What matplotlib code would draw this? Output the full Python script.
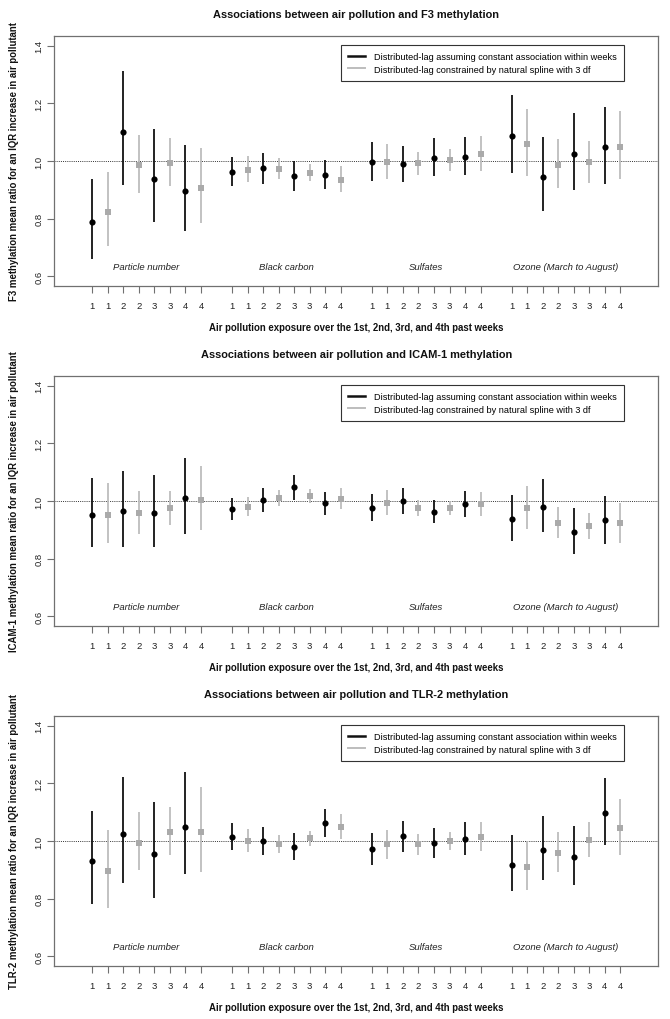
import matplotlib
matplotlib.use("Agg")
import matplotlib.pyplot as plt
from matplotlib.lines import Line2D
import numpy as np

plt.rcParams['font.family'] = ['Liberation Sans', 'DejaVu Sans']

pollutants = ["Particle number", "Black carbon", "Sulfates", "Ozone (March to August)"]
lags = [1, 2, 3, 4]
genes = ["F3", "ICAM-1", "TLR-2"]
legend_labels = ["Distributed-lag assuming constant association within weeks",
                 "Distributed-lag constrained by natural spline with 3 df"]

# Order in every array: PN lag1-4, BC lag1-4, SO4 lag1-4, O3 lag1-4
# ---- F3 ----
f3_const_est = [0.788, 1.099, 0.936, 0.896, 0.962, 0.976, 0.948, 0.953,
                0.995, 0.988, 1.012, 1.015, 1.085, 0.946, 1.025, 1.047]
f3_const_lo = [0.662, 0.917, 0.788, 0.759, 0.912, 0.921, 0.895, 0.902,
               0.930, 0.928, 0.948, 0.950, 0.957, 0.826, 0.898, 0.921]
f3_const_hi = [0.936, 1.313, 1.112, 1.057, 1.014, 1.029, 1.000, 1.005,
               1.065, 1.053, 1.079, 1.083, 1.229, 1.084, 1.166, 1.187]
f3_spline_est = [0.823, 0.986, 0.992, 0.906, 0.970, 0.973, 0.958, 0.935,
                 0.995, 0.992, 1.003, 1.024, 1.058, 0.986, 0.997, 1.050]
f3_spline_lo = [0.706, 0.889, 0.912, 0.784, 0.926, 0.939, 0.930, 0.893,
                0.938, 0.952, 0.967, 0.964, 0.947, 0.905, 0.925, 0.938]
f3_spline_hi = [0.961, 1.091, 1.080, 1.046, 1.017, 1.009, 0.988, 0.982,
                1.058, 1.032, 1.040, 1.085, 1.179, 1.076, 1.070, 1.172]

# ---- ICAM-1 ----
icam_const_est = [0.953, 0.964, 0.958, 1.010, 0.972, 1.005, 1.047, 0.992,
                  0.977, 1.000, 0.962, 0.990, 0.939, 0.980, 0.894, 0.933]
icam_const_lo = [0.842, 0.839, 0.842, 0.887, 0.934, 0.963, 1.005, 0.953,
                 0.931, 0.955, 0.923, 0.945, 0.863, 0.894, 0.818, 0.852]
icam_const_hi = [1.080, 1.104, 1.090, 1.148, 1.010, 1.045, 1.090, 1.031,
                 1.024, 1.045, 1.005, 1.036, 1.021, 1.076, 0.976, 1.018]
icam_spline_est = [0.952, 0.957, 0.975, 1.005, 0.980, 1.012, 1.017, 1.007,
                   0.994, 0.977, 0.977, 0.988, 0.975, 0.924, 0.913, 0.923]
icam_spline_lo = [0.855, 0.886, 0.918, 0.901, 0.947, 0.984, 0.993, 0.971,
                  0.953, 0.948, 0.950, 0.948, 0.904, 0.873, 0.867, 0.855]
icam_spline_hi = [1.062, 1.033, 1.035, 1.121, 1.015, 1.039, 1.042, 1.044,
                  1.038, 1.005, 1.000, 1.031, 1.051, 0.980, 0.960, 0.994]

# ---- TLR-2 ----
tlr_const_est = [0.931, 1.024, 0.955, 1.050, 1.014, 1.000, 0.980, 1.064,
                 0.971, 1.016, 0.993, 1.007, 0.917, 0.970, 0.943, 1.096]
tlr_const_lo = [0.783, 0.856, 0.803, 0.887, 0.969, 0.953, 0.934, 1.015,
                0.916, 0.962, 0.941, 0.953, 0.826, 0.865, 0.846, 0.987]
tlr_const_hi = [1.105, 1.223, 1.134, 1.239, 1.062, 1.050, 1.027, 1.112,
                1.028, 1.069, 1.046, 1.065, 1.021, 1.087, 1.053, 1.219]
tlr_spline_est = [0.895, 0.994, 1.032, 1.031, 1.000, 0.990, 1.009, 1.050,
                  0.988, 0.990, 0.999, 1.015, 0.911, 0.960, 1.003, 1.045]
tlr_spline_lo = [0.769, 0.898, 0.950, 0.893, 0.961, 0.957, 0.983, 1.007,
                 0.939, 0.953, 0.969, 0.965, 0.829, 0.894, 0.943, 0.953]
tlr_spline_hi = [1.039, 1.102, 1.119, 1.188, 1.043, 1.022, 1.036, 1.094,
                 1.039, 1.024, 1.030, 1.067, 1.000, 1.032, 1.065, 1.145]

panels = [
    (f3_const_est, f3_const_lo, f3_const_hi, f3_spline_est, f3_spline_lo, f3_spline_hi),
    (icam_const_est, icam_const_lo, icam_const_hi, icam_spline_est, icam_spline_lo, icam_spline_hi),
    (tlr_const_est, tlr_const_lo, tlr_const_hi, tlr_spline_est, tlr_spline_lo, tlr_spline_hi),
]

W, H = 670, 1020
fig = plt.figure(figsize=(W / 100, H / 100), dpi=100)

# x positions: groups of 8 separated by one empty slot
x_const = []
x_spline = []
tick_pos = []
tick_lab = []
for g in range(len(pollutants)):
    for li, lag in enumerate(lags):
        xc = 1 + g * 9 + 2 * li
        x_const.append(xc)
        x_spline.append(xc + 1)
        tick_pos += [xc, xc + 1]
        tick_lab += [str(lag), str(lag)]
x_const = np.array(x_const)
x_spline = np.array(x_spline)

BLACK = "#111111"
GRAY = "#AAAAAA"
GRAY_LINE = "#BDBDBD"
SPINE = "#707070"

panel_h = 340
for i, (ce, cl, ch, se, sl, sh) in enumerate(panels):
    top = i * panel_h + 37.3
    bottom = i * panel_h + 286.7
    ax = fig.add_axes([54.3 / W, (H - bottom) / H, (658.3 - 54.3) / W, (bottom - top) / H])
    ax.set_xlim(-1.44, 37.44)
    ax.set_ylim(0.568, 1.432)

    ax.axhline(1.0, color="#333333", lw=0.7, ls=(0, (1, 1.2)), zorder=1)

    ax.vlines(x_const, cl, ch, color=BLACK, lw=1.3, zorder=2)
    ax.vlines(x_spline, sl, sh, color=GRAY_LINE, lw=1.3, zorder=2)
    ax.scatter(x_const, ce, s=20, marker="o", color="black", zorder=3, linewidths=0)
    ax.scatter(x_spline, se, s=15, marker="s", color=GRAY, zorder=3, linewidths=0)

    for g, name in enumerate(pollutants):
        ax.text(1 + g * 9 + 3.5, 0.635, name, ha="center", va="center",
                fontsize=6.8, style="italic", color="#222222")

    ax.set_xticks(tick_pos)
    ax.set_xticklabels(tick_lab)
    ax.set_yticks([0.6, 0.8, 1.0, 1.2, 1.4])
    ax.set_yticklabels(["0.6", "0.8", "1.0", "1.2", "1.4"], rotation=90, va="center")
    ax.tick_params(axis="both", length=5, width=0.8, color=SPINE, labelsize=6.8,
                   labelcolor="#222222")
    ax.tick_params(axis="x", pad=6)
    ax.tick_params(axis="y", pad=3)
    for sp in ax.spines.values():
        sp.set_color(SPINE)
        sp.set_linewidth(0.9)

    ax.set_title("Associations between air pollution and %s methylation" % genes[i],
                 fontsize=7.9, fontweight="bold", pad=14, color="#111111")
    ax.set_xlabel("Air pollution exposure over the 1st, 2nd, 3rd, and 4th past weeks",
                  fontsize=6.9, fontweight="bold", labelpad=9, color="#111111")
    ax.set_ylabel("%s methylation mean ratio for an IQR increase in air pollutant" % genes[i],
                  fontsize=6.9, fontweight="bold", labelpad=11, color="#111111")

    handles = [Line2D([0], [0], color=BLACK, lw=1.8),
               Line2D([0], [0], color=GRAY_LINE, lw=1.4)]
    leg = ax.legend(handles, legend_labels, loc="upper right",
                    bbox_to_anchor=(0.9437, 0.965), fontsize=6.6, frameon=True,
                    fancybox=False, framealpha=1, edgecolor="#333333",
                    handlelength=1.85, handletextpad=1.0, borderpad=0.8,
                    labelspacing=0.35, borderaxespad=0)
    leg.get_frame().set_linewidth(0.8)

fig.savefig("out.png", dpi=100)
